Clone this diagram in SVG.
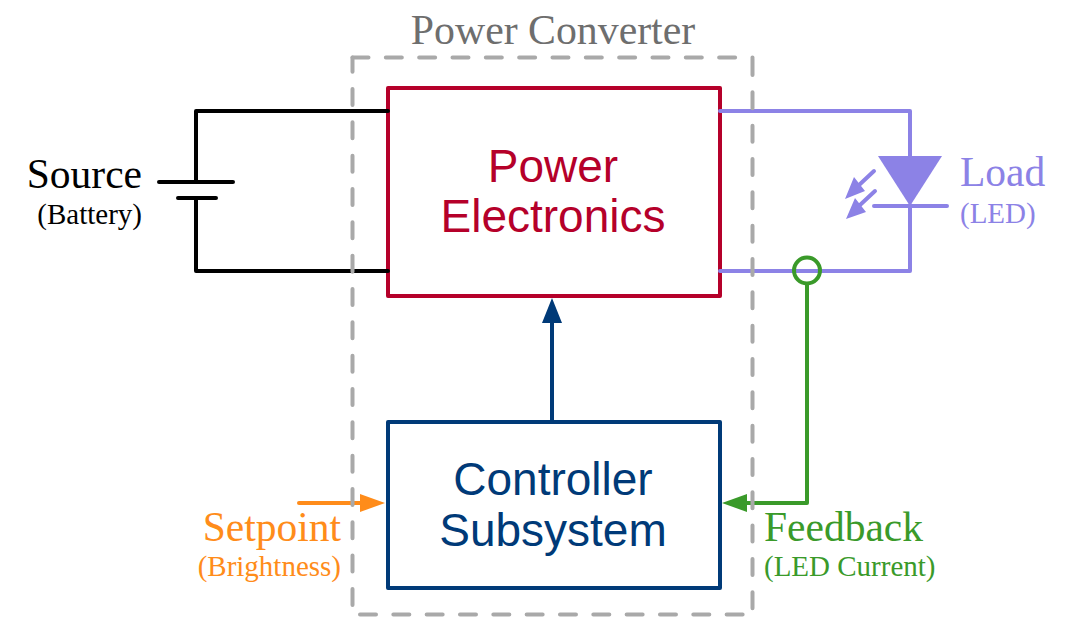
<svg xmlns="http://www.w3.org/2000/svg" width="1079" height="620" viewBox="0 0 1079 620">
<style>
.s{font-family:"Liberation Serif","Times New Roman",serif}
.a{font-family:"Liberation Sans",Arial,sans-serif;font-size:46px;text-anchor:middle}
.w{fill:none;stroke-width:4;stroke-linecap:round;stroke-linejoin:round}
.d{fill:none;stroke:#a9a9a9;stroke-width:4;stroke-linecap:round;stroke-dasharray:16 17.330}
.b{fill:#fff;stroke-width:4;stroke-linejoin:round}
.big{font-size:41.500px}
.small{font-size:29px}
.e{text-anchor:end}
</style>
<rect width="1079" height="620" fill="#fff"/>
<g id="power-electronics">
<rect class="b" x="388" y="88" width="332" height="208" stroke="#b5002a"/>
<text class="a" x="553" y="182" fill="#b5002a">Power</text>
<text class="a" x="553" y="232" fill="#b5002a">Electronics</text>
</g>
<g id="controller-subsystem">
<rect class="b" x="388" y="422" width="332" height="166" stroke="#003a78"/>
<text class="a" x="553" y="495" fill="#003a78">Controller</text>
<text class="a" x="553" y="546" fill="#003a78">Subsystem</text>
</g>
<g id="connectors">
<path class="w" stroke="#000" d="M388 111H196V182M159 182H233M178 198H216M196 198V271H388"/>
<path class="w" stroke="#8c82e6" d="M720 111H910V160M910 205V271H720M874 206H947"/>
<path d="M878 156H942L910 206Z" fill="#8c82e6"/>
<path class="w" stroke="#8c82e6" d="M874 171L858 186M875 191L860 205"/>
<path d="M845 199L854 177L865 191ZM846 219L855 198L866 212Z" fill="#8c82e6"/>
<path class="w" stroke="#003a78" d="M552 421V320"/>
<path d="M542 323L552 298L562 323Z" fill="#003a78"/>
<path class="w" stroke="#ff8c1a" d="M299 503H364"/>
<path d="M360 494L385 503L360 512Z" fill="#ff8c1a"/>
<path class="w" stroke="#3a9a2a" d="M807 284V503H742"/>
<path d="M747 494L722 503L747 512Z" fill="#3a9a2a"/>
<circle cx="807" cy="270.500" r="13" fill="none" stroke="#3a9a2a" stroke-width="4"/>
</g>
<g id="power-converter">
<path class="d" d="M352.500 57.500H752.500"/>
<path class="d" d="M752.500 57.500V614.500" stroke-dashoffset="-1.500"/>
<path class="d" d="M352.500 614.500H752.500" stroke-dashoffset="-7.500"/>
<path class="d" d="M352.500 57.500V614.500" stroke-dashoffset="1.830"/>
<text class="s" x="553" y="44" font-size="41.800" text-anchor="middle" fill="#6e6e6e">Power Converter</text>
</g>
<g id="source">
<text class="s big e" x="142" y="188" fill="#000">Source</text>
<text class="s small e" x="142" y="224" fill="#000">(Battery)</text>
</g>
<g id="load">
<text class="s big" x="960" y="186" fill="#8c82e6">Load</text>
<text class="s small" x="960" y="223" fill="#8c82e6">(LED)</text>
</g>
<g id="setpoint">
<text class="s big e" x="341" y="541" fill="#ff8c1a">Setpoint</text>
<text class="s small e" x="341" y="576" fill="#ff8c1a">(Brightness)</text>
</g>
<g id="feedback">
<text class="s big" x="764" y="541" fill="#3a9a2a">Feedback</text>
<text class="s small" x="764" y="576" fill="#3a9a2a">(LED Current)</text>
</g>
</svg>
